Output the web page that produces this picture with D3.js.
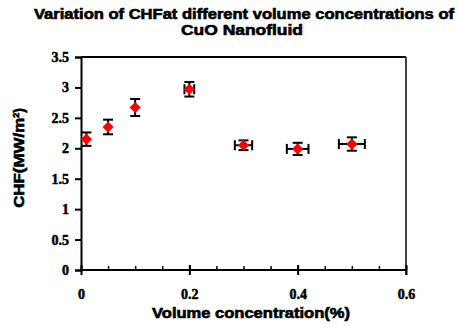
<!DOCTYPE html>
<html>
<head>
<meta charset="utf-8">
<script src="https://cdn.jsdelivr.net/npm/d3@7"></script>
<style>
  body { margin: 0; background: #fff; }
</style>
</head>
<body>
<div id="chart"></div>
<script>
// data
const conc = [0.01, 0.05, 0.1, 0.2, 0.3, 0.4, 0.5];        // volume concentration (%)
const chf = [2.15, 2.35, 2.67, 2.97, 2.05, 1.99, 2.07];    // CHF (MW/m2)
const chfErr = [0.11, 0.12, 0.14, 0.12, 0.08, 0.1, 0.11];
const concErr = [0, 0, 0, 0.009, 0.016, 0.02, 0.024];
const xTicks = [0, 0.2, 0.4, 0.6];
const yTicks = [0, 0.5, 1, 1.5, 2, 2.5, 3, 3.5];
const titleLines = ["Variation of CHFat different volume concentrations of", "CuO Nanofluid"];

const width = 458, height = 330;
const margin = {top: 57, right: 52, bottom: 60, left: 81};

const svg = d3.select("#chart")
    .append("svg")
    .attr("width", width)
    .attr("height", height);

const x = d3.scaleLinear().domain([0, 0.6]).range([margin.left, width - margin.right]);
const y = d3.scaleLinear().domain([0, 3.5]).range([height - margin.bottom, margin.top]);

// heavy sans text, stretched to the widths of the picture
function heavy(sel) {
    return sel.attr("font-family", "Liberation Sans, Arial, sans-serif")
        .attr("font-weight", "bold")
        .attr("font-size", 14)
        .attr("stroke", "#000")
        .attr("stroke-width", 0.6)
        .attr("lengthAdjust", "spacingAndGlyphs");
}

// title
svg.append("g")
    .attr("text-anchor", "middle")
    .selectAll("text")
    .data(titleLines)
    .join("text")
    .call(heavy)
    .attr("x", (d, i) => i ? 242 : 244)
    .attr("y", (d, i) => 19 + i * 16)
    .attr("textLength", (d, i) => i ? 122 : 420)
    .text(d => d);

// frame: top and right
svg.append("line")
    .attr("x1", x(0)).attr("x2", x(0.6))
    .attr("y1", y(3.5)).attr("y2", y(3.5))
    .attr("stroke", "#000").attr("stroke-width", 2);
svg.append("line")
    .attr("x1", x(0.6)).attr("x2", x(0.6))
    .attr("y1", y(3.5)).attr("y2", y(0) + 5)
    .attr("stroke", "#444").attr("stroke-width", 2);

// y axis
const yAxis = svg.append("g")
    .attr("transform", `translate(${x(0)},0)`)
    .call(d3.axisLeft(y).tickValues(yTicks).tickSize(6).tickPadding(6).tickFormat(d3.format("")));
yAxis.select(".domain").attr("stroke-width", 2);
yAxis.selectAll(".tick line").attr("stroke-width", 2);
yAxis.selectAll("text")
    .attr("font-family", "Liberation Serif, Times New Roman, serif")
    .attr("font-weight", "bold")
    .attr("font-size", 14)
    .attr("stroke", "#000")
    .attr("stroke-width", 0.5)
    .attr("fill", "#000");

// x axis: minor ticks inward, major ticks crossing
const xMinor = svg.append("g")
    .attr("transform", `translate(0,${y(0)})`)
    .call(d3.axisTop(x).ticks(15).tickSize(4).tickFormat(""));
xMinor.select(".domain").remove();
xMinor.selectAll(".tick line").attr("stroke-width", 1.5);

const xAxis = svg.append("g")
    .attr("transform", `translate(0,${y(0) - 5})`)
    .call(d3.axisBottom(x).tickValues(xTicks).tickSizeInner(10).tickSizeOuter(0).tickPadding(14).tickFormat(d3.format("")));
xAxis.select(".domain").remove();
xAxis.selectAll(".tick line").attr("stroke-width", 2);
xAxis.selectAll("text")
    .attr("font-family", "Liberation Serif, Times New Roman, serif")
    .attr("font-weight", "bold")
    .attr("font-size", 14)
    .attr("stroke", "#000")
    .attr("stroke-width", 0.5)
    .attr("fill", "#000");
svg.append("line")
    .attr("x1", x(0)).attr("x2", x(0.6))
    .attr("y1", y(0)).attr("y2", y(0))
    .attr("stroke", "#000").attr("stroke-width", 2);

// axis titles
svg.append("text")
    .call(heavy)
    .attr("x", 251).attr("y", 318)
    .attr("text-anchor", "middle")
    .attr("textLength", 198)
    .text("Volume concentration(%)");

const yTitle = svg.append("text")
    .call(heavy)
    .attr("transform", `translate(24,158) rotate(-90)`)
    .attr("text-anchor", "middle");
yTitle.append("tspan").attr("textLength", 90).attr("lengthAdjust", "spacingAndGlyphs").text("CHF(MW/m");
yTitle.append("tspan").attr("font-size", 9).attr("dy", -5).text("2");
yTitle.append("tspan").attr("dy", 5).text(")");

// error bars
const pts = conc.map((c, i) => ({c, v: chf[i], ey: chfErr[i], ex: concErr[i]}));
const err = svg.append("g").attr("stroke", "#000").attr("stroke-width", 2);
pts.forEach(d => {
    err.append("line")
        .attr("x1", x(d.c)).attr("x2", x(d.c))
        .attr("y1", y(d.v - d.ey)).attr("y2", y(d.v + d.ey));
    [d.v - d.ey, d.v + d.ey].forEach(v => {
        err.append("line")
            .attr("x1", x(d.c) - 5).attr("x2", x(d.c) + 5)
            .attr("y1", y(v)).attr("y2", y(v));
    });
    if (d.ex > 0) {
        err.append("line")
            .attr("x1", x(d.c - d.ex)).attr("x2", x(d.c + d.ex))
            .attr("y1", y(d.v)).attr("y2", y(d.v));
        [d.c - d.ex, d.c + d.ex].forEach(c => {
            err.append("line")
                .attr("x1", x(c)).attr("x2", x(c))
                .attr("y1", y(d.v) - 5).attr("y2", y(d.v) + 5);
        });
    }
});

// markers
svg.append("g")
    .selectAll("path")
    .data(pts)
    .join("path")
    .attr("transform", d => `translate(${x(d.c)},${y(d.v)})`)
    .attr("d", d3.symbol(d3.symbolDiamond2, 80))
    .attr("fill", "#ff0000");
</script>
</body>
</html>
